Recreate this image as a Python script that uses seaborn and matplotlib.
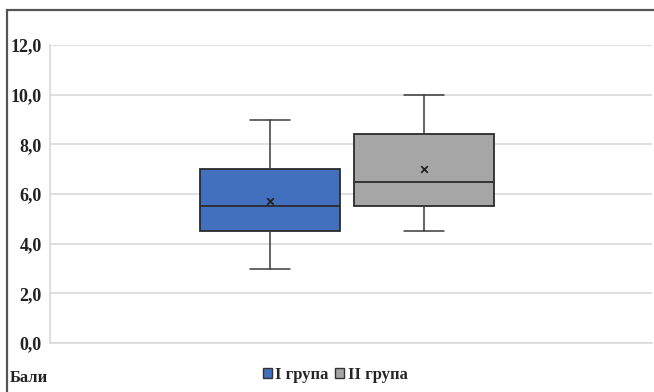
import matplotlib
matplotlib.use('Agg')
import matplotlib.pyplot as plt
import seaborn as sns
from matplotlib.patches import Rectangle

# values (scores, "Бали")
groups = ['I група', 'II група']
whisker_low = [3.0, 4.5]
q1 = [4.5, 5.5]
median = [5.5, 6.5]
q3 = [7.0, 8.4]
whisker_high = [9.0, 10.0]
means = [5.7, 7.0]
colors = ['#4270bf', '#a6a6a6']
y_ticks = [0, 2, 4, 6, 8, 10, 12]
y_labels = ['0,0', '2,0', '4,0', '6,0', '8,0', '10,0', '12,0']

sns.set_style('white')
plt.rcParams['font.family'] = ['Liberation Serif', 'DejaVu Serif']

fig = plt.figure(figsize=(6.54, 3.92), dpi=100)
ax = fig.add_axes([50 / 654, 1 - 343 / 392, 602 / 654, 298 / 392])

stats = []
for i, g in enumerate(groups):
    stats.append({'label': g, 'whislo': whisker_low[i], 'q1': q1[i], 'med': median[i],
                  'q3': q3[i], 'whishi': whisker_high[i], 'mean': means[i], 'fliers': []})

positions = [1, 2]
bp = ax.bxp(stats, positions=positions, widths=0.91, patch_artist=True, showfliers=False,
            showmeans=False, capwidths=0.26,
            boxprops=dict(linewidth=1.3, edgecolor='#2b2b2b'),
            medianprops=dict(color='#2b2b2b', linewidth=1.3),
            whiskerprops=dict(color='#3a3a3a', linewidth=1.1),
            capprops=dict(color='#3a3a3a', linewidth=1.1))
for patch, c in zip(bp['boxes'], colors):
    patch.set_facecolor(c)

# mean markers
sns.scatterplot(x=positions, y=means, marker='x', color='#222222', s=22, linewidth=1.3,
                ax=ax, legend=False, zorder=5)

ax.set_xlim(-0.43, 3.48)
ax.set_ylim(0, 12)
ax.set_yticks(y_ticks)
ax.set_yticklabels(y_labels, fontsize=13, fontweight='bold', color='#222222')
ax.set_xticks([])
ax.yaxis.grid(True, color='#d9d9d9', linewidth=1.2)
ax.set_axisbelow(True)
ax.tick_params(axis='y', length=0, pad=6)
for s in ['top', 'right']:
    ax.spines[s].set_visible(False)
ax.spines['left'].set_color('#d9d9d9')
ax.spines['bottom'].set_color('#d9d9d9')
ax.spines['left'].set_linewidth(1.2)
ax.spines['bottom'].set_linewidth(1.2)

# legend at the bottom
handles = [Rectangle((0, 0), 1, 1, facecolor=c, edgecolor='#333333', linewidth=1.0) for c in colors]
fig.legend(handles, groups, loc='center', bbox_to_anchor=(335 / 654, 1 - 375 / 392), ncol=2,
           frameon=False, handlelength=0.55, handleheight=0.55, handletextpad=0.2,
           columnspacing=0.4, prop={'size': 12, 'weight': 'bold'})

fig.text(10 / 654, 1 - 378 / 392, 'Бали', fontsize=12, fontweight='bold', va='center',
         ha='left', color='#222222')

# outer frame of the chart
fig.patches.append(Rectangle((7 / 654, -0.05), 1.2, 1 - 10 / 392 + 0.05, transform=fig.transFigure,
                             fill=False, edgecolor='#555555', linewidth=1.6))

fig.savefig('out.png', dpi=100)
